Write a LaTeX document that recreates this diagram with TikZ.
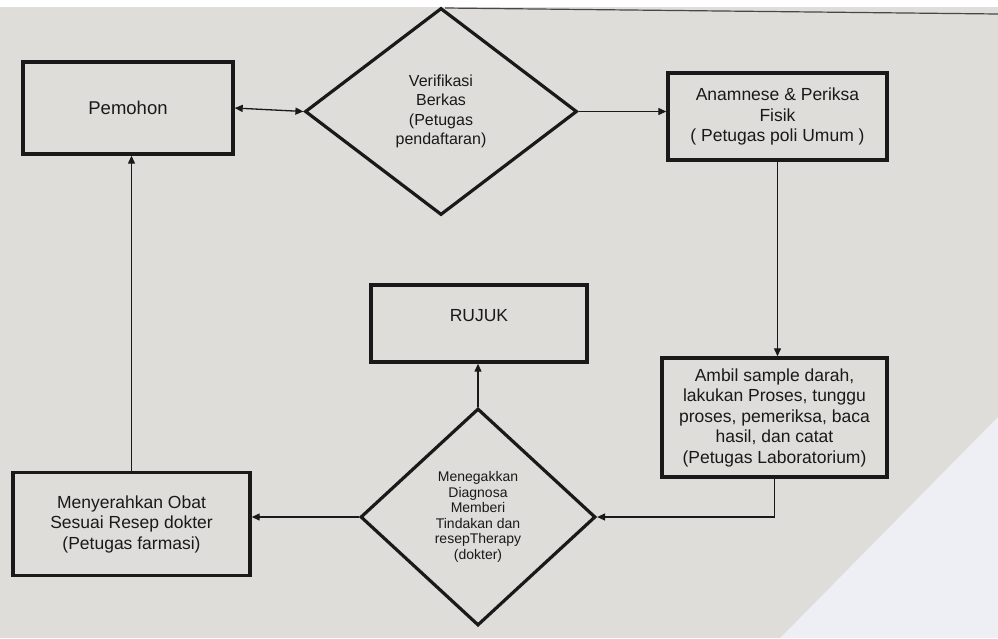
\documentclass[tikz,border=0pt]{standalone}
\usepackage{fontspec}
\setmainfont{Liberation Sans}
\usetikzlibrary{shapes.geometric,arrows.meta}
\definecolor{paper}{RGB}{222,221,218}
\definecolor{glare}{RGB}{238,239,245}
\definecolor{ink}{RGB}{25,25,25}
\begin{document}
\begin{tikzpicture}[x=1pt,y=-1pt,
  every node/.style={text=ink},
  box/.style={draw=ink, line width=3.4pt, rectangle, align=center, inner sep=0pt,
    font=\fontsize{17.5}{20.5}\selectfont},
  dia/.style={draw=ink, line width=3.2pt, diamond, aspect=1, align=center, inner sep=0pt},
  conn/.style={draw=ink, line width=1.3pt, -{Triangle[length=8pt,width=7pt]}},
  plain/.style={draw=ink, line width=1.3pt}
]
\useasboundingbox (0,0) rectangle (998,638);
\fill[paper] (0,0) rectangle (998,638);
\fill[white] (0,0) rectangle (998,7);
\draw[ink!80, line width=1.2pt] (445,8) -- (998,14);
\fill[glare] (998,417) -- (798,620) -- (780,638) -- (998,638) -- cycle;

\node[box, minimum width=210, minimum height=92, font=\fontsize{18.5}{21}\selectfont] (pem) at (128,108) {Pemohon};
\node[dia, minimum width=272, minimum height=207, font=\fontsize{16}{19.5}\selectfont] (ver) at (441,111.5)
  {Verifikasi\\Berkas\\(Petugas\\pendaftaran)};
\node[box, minimum width=219, minimum height=87] (ana) at (777.5,116.5)
  {Anamnese \& Periksa\\Fisik\\( Petugas poli Umum )};
\node[box, minimum width=225, minimum height=119] (lab) at (774.5,417.5)
  {Ambil sample darah,\\lakukan Proses, tunggu\\proses, pemeriksa, baca\\hasil, dan catat\\(Petugas Laboratorium)};
\node[box, minimum width=216, minimum height=77] (ruj) at (479,323.5)
  {\raisebox{0pt}[\height][\dimexpr\depth+16pt\relax]{RUJUK}};
\node[dia, minimum width=235, minimum height=217, font=\fontsize{14}{15.5}\selectfont] (dok) at (478,517)
  {Menegakkan\\Diagnosa\\Memberi\\Tindakan dan\\resepTherapy\\(dokter)};
\node[box, minimum width=237, minimum height=103] (far) at (131.5,524)
  {Menyerahkan Obat\\Sesuai Resep dokter\\(Petugas farmasi)};

\draw[conn, {Triangle[length=8pt,width=7pt]}-{Triangle[length=8pt,width=7pt]}] (pem.east) -- (ver.west);
\draw[conn] (ver.east) -- (ver.east -| ana.west);
\draw[conn] (ana.south) -- (ana.south |- lab.north);
\draw[conn] (lab.south) -- (lab.south |- dok.east) -- (dok.east);
\draw[conn] (dok.north) -- (dok.north |- ruj.south);
\draw[conn] (dok.west) -- (dok.west -| far.east);
\draw[conn] (far.north) -- (far.north |- pem.south);
\end{tikzpicture}
\end{document}
